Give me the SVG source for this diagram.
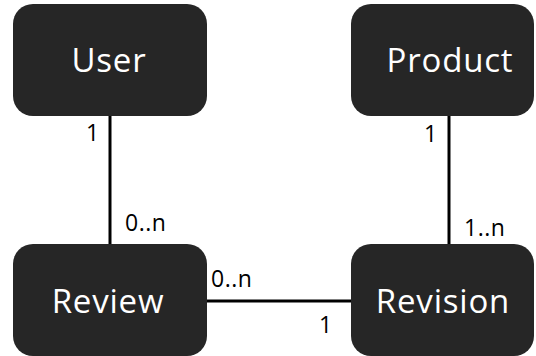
<svg xmlns="http://www.w3.org/2000/svg" width="536" height="356" viewBox="0 0 536 356">
  <style>
    .box { fill: #262626; }
    .name { font-family: "Open Sans", "Liberation Sans", sans-serif; font-size: 33px; letter-spacing: 0.8px; fill: #ffffff; text-anchor: middle; }
    .mult { font-family: "Open Sans", "Liberation Sans", sans-serif; font-size: 23px; letter-spacing: 0.5px; fill: #000000; }
    .link { stroke: #000000; stroke-width: 3; fill: none; }
  </style>
  <rect width="536" height="356" fill="#ffffff"/>
  <g id="connectors">
    <line class="link" x1="110" y1="116" x2="110" y2="244"/>
    <line class="link" x1="449" y1="116" x2="449" y2="244"/>
    <line class="link" x1="207" y1="301" x2="351" y2="301"/>
    <text class="mult" x="86" y="141">1</text>
    <text class="mult" x="125" y="231">0..n</text>
    <text class="mult" x="424" y="142">1</text>
    <text class="mult" x="464" y="236">1..n</text>
    <text class="mult" x="211" y="287">0..n</text>
    <text class="mult" x="319" y="333">1</text>
  </g>
  <g id="user">
    <rect class="box" x="13" y="4" width="194" height="112" rx="20"/>
    <text class="name" x="109" y="72">User</text>
  </g>
  <g id="product">
    <rect class="box" x="351" y="4" width="183" height="112" rx="20"/>
    <text class="name" x="450" y="72">Product</text>
  </g>
  <g id="review">
    <rect class="box" x="13" y="244" width="194" height="112" rx="20"/>
    <text class="name" x="108" y="313">Review</text>
  </g>
  <g id="revision">
    <rect class="box" x="351" y="244" width="183" height="112" rx="20"/>
    <text class="name" x="443" y="313">Revision</text>
  </g>
</svg>
